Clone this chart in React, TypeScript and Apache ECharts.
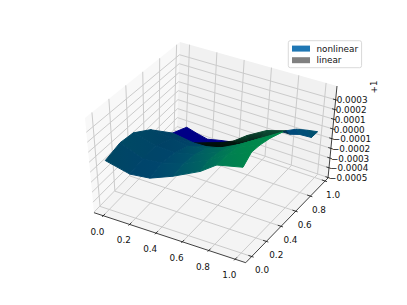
import React, { useEffect, useRef } from "react";
import * as echarts from "echarts";

// ---------- tick labels ----------
const xTickLabels = ["0.0", "0.2", "0.4", "0.6", "0.8", "1.0"];
const yTickLabels = ["0.0", "0.2", "0.4", "0.6", "0.8", "1.0"];
const zTickLabels = ["0.0003", "0.0002", "0.0001", "0.0000", "\u22120.0001", "\u22120.0002", "\u22120.0003", "\u22120.0004", "\u22120.0005"];
const offsetLabel = "+1";
const seriesNames = ["nonlinear", "linear"];

// ---------- surface values (z is in units of 1e-4, relative to the +1 offset) ----------
const frontX = [0, 0.17, 0.33, 0.5, 0.67, 0.83, 1];
const frontY = [
  [0.853, 0.836, 0.72, 0.604, 0.566, 0.538, 0.53],
  [0.565, 0.554, 0.481, 0.424, 0.428, 0.391, 0.375],
  [0.354, 0.349, 0.319, 0.283, 0.3, 0.266, 0.25],
  [0.19, 0.184, 0.151, 0.143, 0.178, 0.146, 0.15],
  [0, 0.015, 0, 0.007, 0.068, 0.007, 0.046],
];
const frontZ = [
  [-3.82, -3.95, -2.68, -1.17, 0.22, 1.67, 3.1],
  [-1.17, -1.26, -0.82, 0.06, 0.92, 2.38, 3.57],
  [0.1, -0.45, -0.27, 0.54, 1.34, 2.72, 3.76],
  [0.3, -0.6, -0.08, 0.63, 1.48, 2.87, 3.76],
  [-0.13, -0.88, -0.5, 0.35, 1.1, 2.81, 3.0],
];
const backUpperX = [0.03, 0.1, 0.183, 0.284, 0.383];
const backUpperY = [0.99, 1, 1, 1, 1];
const backUpperZ = [-4.17, -4.57, -4.82, -4.48, -4.2];
const backLowerX = [0, 0.17, 0.33, 0.5, 0.67];
const backLowerY = [0.853, 0.836, 0.72, 0.604, 0.566];
const backLowerZ = [-3.82, -3.95, -2.68, -1.17, 0.22];
const foldUpperX = [0.17, 0.233, 0.367, 0.486, 0.613, 0.756, 0.847];
const foldUpperY = [0.836, 0.9, 0.85, 0.8, 0.75, 0.75, 0.85];
const foldUpperZ = [-3.95, -4.15, -3.11, -2.02, -0.5, 0.63, 0.25];
const foldLowerX = [0.17, 0.33, 0.5, 0.67, 0.75, 0.83, 1];
const foldLowerY = [0.836, 0.72, 0.604, 0.566, 0.55, 0.538, 0.53];
const foldLowerZ = [-3.95, -2.68, -1.17, 0.22, 0.94, 1.67, 3.1];
const tipUpperX = [1, 0.847, 0.878, 0.94, 1];
const tipUpperY = [0.53, 0.85, 0.92, 0.96, 0.986];
const tipUpperZ = [3.1, 0.25, 0.02, -0.13, -0.22];
const tipLowerX = [1, 1, 1, 1, 1];
const tipLowerY = [0.53, 0.622, 0.744, 0.907, 0.986];
const tipLowerZ = [3.1, 2.2, 1.3, -0.22, -0.22];

// ---------- surface colours ----------
const frontColors = [
  ["#004264", "#003c6a", "#004f68", "#006a58", "#007a50", "#00874c", "#008a4c"],
  ["#004564", "#003f64", "#004768", "#005f62", "#007454", "#00864c", "#008a4c"],
  ["#004a64", "#004366", "#004569", "#005668", "#00705a", "#008250", "#008a4a"],
  ["#004864", "#004668", "#00456c", "#00526a", "#006a5c", "#007e52", "#00884a"],
  ["#004662", "#00426c", "#00466e", "#00506c", "#006462", "#007858", "#00864c"],
];
const backColor = "#000086";
const foldTop = ["#02120e", "#01100c", "#03180f", "#0a4a30", "#0b4d33", "#0a4a33"];
const foldBottom = ["#01090a", "#000d0a", "#010f0a", "#02140c", "#04201a", "#0a3a28"];
const tipColors = ["#00334f", "#004a7a", "#004f78", "#005070"];

// ---------- view ----------
const xLim = [-0.07, 1.08];
const yLim = [-0.082, 1.04];
const zLim = [-5.05, 4.42];
const corners = {
  c000: [94, 212.7], c100: [245.7, 262.7], c110: [328, 178], c010: [177, 127],
  c001: [85, 118], c101: [243, 165], c111: [337, 86], c011: [180, 42],
};
const lerp = (a: number, b: number, t: number) => a + (b - a) * t;
function project(x: number, y: number, z: number): number[] {
  const u = (x - xLim[0]) / (xLim[1] - xLim[0]);
  const v = (y - yLim[0]) / (yLim[1] - yLim[0]);
  const w = (z - zLim[0]) / (zLim[1] - zLim[0]);
  return [0, 1].map((k) => {
    const a = lerp(lerp(corners.c000[k], corners.c100[k], u), lerp(corners.c010[k], corners.c110[k], u), v);
    const b = lerp(lerp(corners.c001[k], corners.c101[k], u), lerp(corners.c011[k], corners.c111[k], u), v);
    return lerp(a, b, w);
  });
}
const tickZ = (s: string) => parseFloat(s.replace("\u2212", "-")) * 1e4;

type Cell = { pts: number[][]; fill: any; stroke: any };
const gradient = (h: boolean, a: string, b: string) =>
  new echarts.graphic.LinearGradient(0, 0, h ? 1 : 0, h ? 0 : 1, [
    { offset: 0, color: a },
    { offset: 1, color: b },
  ]);
const cells: Cell[] = [];
for (let i = 0; i < backUpperX.length - 1; i++) {
  cells.push({
    pts: [
      project(backUpperX[i], backUpperY[i], backUpperZ[i]),
      project(backUpperX[i + 1], backUpperY[i + 1], backUpperZ[i + 1]),
      project(backLowerX[i + 1], backLowerY[i + 1], backLowerZ[i + 1]),
      project(backLowerX[i], backLowerY[i], backLowerZ[i]),
    ],
    fill: backColor,
    stroke: backColor,
  });
}
for (let i = 0; i < foldUpperX.length - 1; i++) {
  const g = gradient(false, foldTop[i], foldBottom[i]);
  cells.push({
    pts: [
      project(foldUpperX[i], foldUpperY[i], foldUpperZ[i]),
      project(foldUpperX[i + 1], foldUpperY[i + 1], foldUpperZ[i + 1]),
      project(foldLowerX[i + 1], foldLowerY[i + 1], foldLowerZ[i + 1]),
      project(foldLowerX[i], foldLowerY[i], foldLowerZ[i]),
    ],
    fill: g,
    stroke: g,
  });
}
for (let i = 0; i < tipUpperX.length - 1; i++) {
  cells.push({
    pts: [
      project(tipUpperX[i], tipUpperY[i], tipUpperZ[i]),
      project(tipUpperX[i + 1], tipUpperY[i + 1], tipUpperZ[i + 1]),
      project(tipLowerX[i + 1], tipLowerY[i + 1], tipLowerZ[i + 1]),
      project(tipLowerX[i], tipLowerY[i], tipLowerZ[i]),
    ],
    fill: tipColors[i],
    stroke: tipColors[i],
  });
}
for (let r = 0; r < frontY.length - 1; r++) {
  for (let c = 0; c < frontX.length - 1; c++) {
    const top = frontColors[r];
    const bot = frontColors[r + 1];
    const mix = (a: string, b: string) => {
      const p = (s: string, i: number) => parseInt(s.slice(i, i + 2), 16);
      const h = (i: number) => Math.round((p(a, i) + p(b, i)) / 2).toString(16).padStart(2, "0");
      return "#" + h(1) + h(3) + h(5);
    };
    const g = gradient(true, mix(top[c], bot[c]), mix(top[c + 1], bot[c + 1]));
    cells.push({
      pts: [
        project(frontX[c], frontY[r][c], frontZ[r][c]),
        project(frontX[c + 1], frontY[r][c + 1], frontZ[r][c + 1]),
        project(frontX[c + 1], frontY[r + 1][c + 1], frontZ[r + 1][c + 1]),
        project(frontX[c], frontY[r + 1][c], frontZ[r + 1][c]),
      ],
      fill: g,
      stroke: g,
    });
  }
}

// ---------- frame ----------
type Seg = { a: number[]; b: number[]; color: string; width: number };
const gridColor = "#cbcbcb";
const segs: Seg[] = [];
const addGrid = (a: number[], b: number[]) => segs.push({ a, b, color: gridColor, width: 1 });
xTickLabels.forEach((s) => {
  const x = parseFloat(s);
  addGrid(project(x, yLim[0], zLim[0]), project(x, yLim[1], zLim[0]));
  addGrid(project(x, yLim[1], zLim[0]), project(x, yLim[1], zLim[1]));
});
yTickLabels.forEach((s) => {
  const y = parseFloat(s);
  addGrid(project(xLim[1], y, zLim[0]), project(xLim[0], y, zLim[0]));
  addGrid(project(xLim[0], y, zLim[0]), project(xLim[0], y, zLim[1]));
});
zTickLabels.forEach((s) => {
  const z = tickZ(s);
  addGrid(project(xLim[0], yLim[0], z), project(xLim[0], yLim[1], z));
  addGrid(project(xLim[0], yLim[1], z), project(xLim[1], yLim[1], z));
});
const axisColor = "#111111";
const addAxis = (a: number[], b: number[], width = 0.8) => segs.push({ a, b, color: axisColor, width });
addAxis(project(xLim[0], yLim[0], zLim[0]), project(xLim[1], yLim[0], zLim[0]));
addAxis(project(xLim[1], yLim[0], zLim[0]), project(xLim[1], yLim[1], zLim[0]));
addAxis(project(xLim[1], yLim[1], zLim[0]), project(xLim[1], yLim[1], zLim[1]));
xTickLabels.forEach((s) => {
  const x = parseFloat(s);
  addAxis(project(x, yLim[0] - 0.015, zLim[0]), project(x, yLim[0] + 0.025, zLim[0]));
});
yTickLabels.forEach((s) => {
  const y = parseFloat(s);
  addAxis(project(xLim[1] - 0.025, y, zLim[0]), project(xLim[1] + 0.015, y, zLim[0]));
});
zTickLabels.forEach((s) => {
  const z = tickZ(s);
  addAxis(project(xLim[1] - 0.02, yLim[1], z), project(xLim[1] + 0.015, yLim[1], z));
});

const panes = [
  { pts: [project(xLim[0], yLim[0], zLim[0]), project(xLim[0], yLim[1], zLim[0]), project(xLim[0], yLim[1], zLim[1]), project(xLim[0], yLim[0], zLim[1])], fill: "#f8f8f8" },
  { pts: [project(xLim[0], yLim[1], zLim[0]), project(xLim[1], yLim[1], zLim[0]), project(xLim[1], yLim[1], zLim[1]), project(xLim[0], yLim[1], zLim[1])], fill: "#f1f1f1" },
  { pts: [project(xLim[0], yLim[0], zLim[0]), project(xLim[1], yLim[0], zLim[0]), project(xLim[1], yLim[1], zLim[0]), project(xLim[0], yLim[1], zLim[0])], fill: "#f4f4f4" },
];

type Lab = { text: string; p: number[]; dx: number; dy: number; align: string; rot?: number };
const labels: Lab[] = [];
xTickLabels.forEach((s) => labels.push({ text: s, p: project(parseFloat(s), yLim[0], zLim[0]), dx: -5.8, dy: 16, align: "center" }));
yTickLabels.forEach((s, i) => labels.push({ text: s, p: project(xLim[1], parseFloat(s), zLim[0]), dx: 10.3 - 0.45 * i, dy: 13.7, align: "center" }));
zTickLabels.forEach((s) => labels.push({ text: s, p: project(xLim[1], yLim[1], tickZ(s)), dx: 1, dy: 0.6, align: "left" }));
labels.push({ text: offsetLabel, p: project(xLim[1], yLim[1], zLim[1]), dx: 37, dy: 1, align: "center", rot: Math.PI / 2 });

const FONT = '8.83px "DejaVu Sans"';

export default function App() {
  const ref = useRef<HTMLDivElement>(null);
  useEffect(() => {
    document.body.style.margin = "0";
    const chart = echarts.init(ref.current!, undefined, { renderer: "svg" });
    const coordsOf = (api: any, pts: number[][]) => pts.map((p) => api.coord(p));
    chart.setOption({
      animation: false,
      grid: { left: 0, right: 0, top: 0, bottom: 0 },
      xAxis: { type: "value", min: 0, max: 407, show: false },
      yAxis: { type: "value", min: 0, max: 305, inverse: true, show: false },
      legend: {
        selectedMode: false,
        orient: "vertical",
        left: 288.3,
        top: 40.7,
        itemWidth: 18,
        itemHeight: 6,
        itemGap: 2.6,
        padding: [3.4, 3.5, 3, 3.7],
        backgroundColor: "#fff",
        borderColor: "#cfcfcf",
        borderWidth: 0.8,
        borderRadius: 2,
        textStyle: { fontFamily: "DejaVu Sans", fontSize: 8.83, color: "#111", padding: [0, 0, 0, 1.5] },
        data: [
          { name: seriesNames[0], icon: "rect", itemStyle: { color: "#1f77b4" } },
          { name: seriesNames[1], icon: "rect", itemStyle: { color: "#808080" } },
        ],
      },
      series: [
        {
          type: "custom",
          name: "panes",
          clip: false,
          silent: true,
          data: panes.map(() => [1, 1]),
          renderItem: (params: any, api: any) => ({
            type: "polygon",
            shape: { points: coordsOf(api, panes[params.dataIndex].pts) },
            style: { fill: panes[params.dataIndex].fill, stroke: "none" },
          }),
        },
        {
          type: "custom",
          name: "frame",
          clip: false,
          silent: true,
          data: segs.map(() => [1, 1]),
          renderItem: (params: any, api: any) => {
            const s = segs[params.dataIndex];
            const [a, b] = coordsOf(api, [s.a, s.b]);
            return {
              type: "line",
              shape: { x1: a[0], y1: a[1], x2: b[0], y2: b[1] },
              style: { stroke: s.color, lineWidth: s.width },
            };
          },
        },
        {
          type: "custom",
          name: seriesNames[0],
          clip: false,
          silent: true,
          itemStyle: { color: "#1f77b4" },
          data: cells.map(() => [1, 1]),
          renderItem: (params: any, api: any) => {
            const c = cells[params.dataIndex];
            return {
              type: "polygon",
              shape: { points: coordsOf(api, c.pts) },
              style: { fill: c.fill, stroke: c.stroke, lineWidth: 1, lineJoin: "round" },
            };
          },
        },
        {
          type: "custom",
          name: seriesNames[1],
          clip: false,
          silent: true,
          itemStyle: { color: "#808080" },
          data: [],
          renderItem: () => null,
        },
        {
          type: "custom",
          name: "labels",
          clip: false,
          silent: true,
          data: labels.map(() => [1, 1]),
          renderItem: (params: any, api: any) => {
            const l = labels[params.dataIndex];
            const c = api.coord(l.p);
            return {
              type: "text",
              x: c[0] + l.dx,
              y: c[1] + l.dy,
              rotation: l.rot || 0,
              style: { text: l.text, font: FONT, fill: "#111", align: l.align, verticalAlign: "middle" },
            };
          },
        },
      ],
    });
    return () => chart.dispose();
  }, []);
  return <div ref={ref} style={{ width: 407, height: 305 }} />;
}
